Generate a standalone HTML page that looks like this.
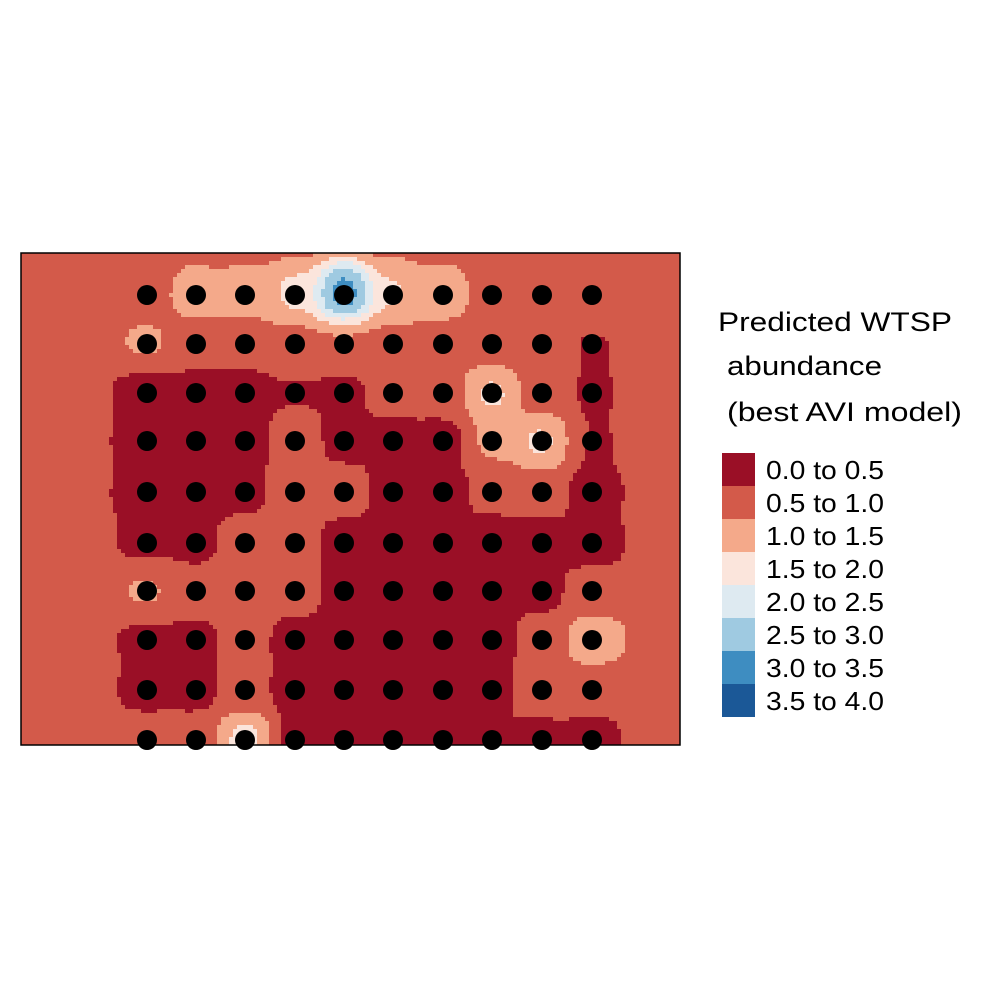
<!DOCTYPE html>
<html><head><meta charset="utf-8"><style>
html,body{margin:0;padding:0;background:#fff;}
#wrap{position:relative;width:1000px;height:1000px;}
#field{position:absolute;left:21px;top:253px;image-rendering:pixelated;}
svg{position:absolute;left:0;top:0;display:block;font-family:"Liberation Sans",Arial,sans-serif;}
</style></head><body>
<div id="wrap">
<canvas id="field" width="659" height="492"></canvas>
<svg id="chart" width="1000" height="1000" viewBox="0 0 1000 1000">
<g id="points"></g>
<rect x="21" y="253" width="659" height="492" fill="none" stroke="#000" stroke-width="1.5"/>
<g id="legend">
<text x="718" y="331" font-size="27" textLength="234" lengthAdjust="spacingAndGlyphs">Predicted WTSP</text>
<text x="727" y="375" font-size="27" textLength="155" lengthAdjust="spacingAndGlyphs">abundance</text>
<text x="727" y="421" font-size="27" textLength="235" lengthAdjust="spacingAndGlyphs">(best AVI model)</text>
</g>
</svg>
</div>
<script>
const colX = [147,196,245,295,344,393,443,492,542,592];
const rowY = [295,344,393,441,492,543,591,640,690,740];
const values = [
 [0.9,1.3,1.3,1.8,3.8,1.7,1.35,0.9,0.8,0.95],
 [1.15,0.75,0.8,0.85,0.9,0.85,0.85,0.7,0.7,0.42],
 [0.15,0.2,0.15,0.42,0.3,0.7,0.75,1.8,0.7,0.4],
 [0.1,0.1,0.2,0.7,0.3,0.2,0.2,1.2,1.8,0.42],
 [0.1,0.1,0.3,0.7,0.7,0.2,0.2,0.6,0.7,0.25],
 [0.3,0.3,0.7,0.7,0.2,0.15,0.15,0.15,0.2,0.2],
 [1.15,0.7,0.7,0.7,0.2,0.1,0.1,0.1,0.3,0.7],
 [0.3,0.3,0.7,0.2,0.2,0.1,0.1,0.2,0.7,1.5],
 [0.3,0.3,0.7,0.2,0.1,0.1,0.2,0.35,0.7,0.6],
 [0.7,0.7,1.9,0.3,0.2,0.2,0.3,0.35,0.3,0.3]
];
const classLabels = ["0.0 to 0.5","0.5 to 1.0","1.0 to 1.5","1.5 to 2.0","2.0 to 2.5","2.5 to 3.0","3.0 to 3.5","3.5 to 4.0"];
const classBreaks = [0,0.5,1.0,1.5,2.0,2.5,3.0,3.5];
const colors = ["#9A0F26","#D35A4A","#F4A98A","#FBE5DC","#DEEAF1","#9FCAE1","#3E8DC1","#1B5897"];
const NS="http://www.w3.org/2000/svg";
const pts=document.getElementById('points');
const leg=document.getElementById('legend');
function mk(tag,attrs){const e=document.createElementNS(NS,tag);for(const k in attrs)e.setAttribute(k,attrs[k]);return e;}

const cv=document.getElementById('field');
const ctx=cv.getContext('2d');
const X0=21,Y0=253,W=659,H=492,CELL=4,SIG=17,PRIOR=0.7;
const s2=2*SIG*SIG, w0=Math.exp(-(30*30)/s2);
for(let py=0;py<H;py+=CELL){
  for(let px=0;px<W;px+=CELL){
    const x=X0+px+CELL/2,y=Y0+py+CELL/2;
    let sw=w0,sv=w0*PRIOR;
    values.forEach((row,i)=>row.forEach((v,j)=>{
      const dx=x-colX[j],dy=y-rowY[i];
      const w=Math.exp(-(dx*dx+dy*dy)/s2);
      sw+=w;sv+=w*v;
    }));
    const f=sv/sw;
    let k=0;
    for(let c=0;c<classBreaks.length;c++) if(f>=classBreaks[c]) k=c;
    ctx.fillStyle=colors[k];
    ctx.fillRect(px,py,CELL,CELL);
  }
}

values.forEach((row,i)=>row.forEach((v,j)=>{
  const c=mk('circle',{cx:colX[j],cy:rowY[i],r:10,fill:'#000'});
  
  
  pts.appendChild(c);
}));
classLabels.forEach((lab,k)=>{
  const y=453+k*33;
  const r=mk('rect',{x:722,y:y,width:33,height:33,fill:colors[k]});
  
  
  leg.appendChild(r);
  const t=mk('text',{x:766,y:y+26,'font-size':26,textLength:118,lengthAdjust:'spacingAndGlyphs'});
  
  
  t.textContent=lab;
  leg.appendChild(t);
});
</script>
</body></html>
